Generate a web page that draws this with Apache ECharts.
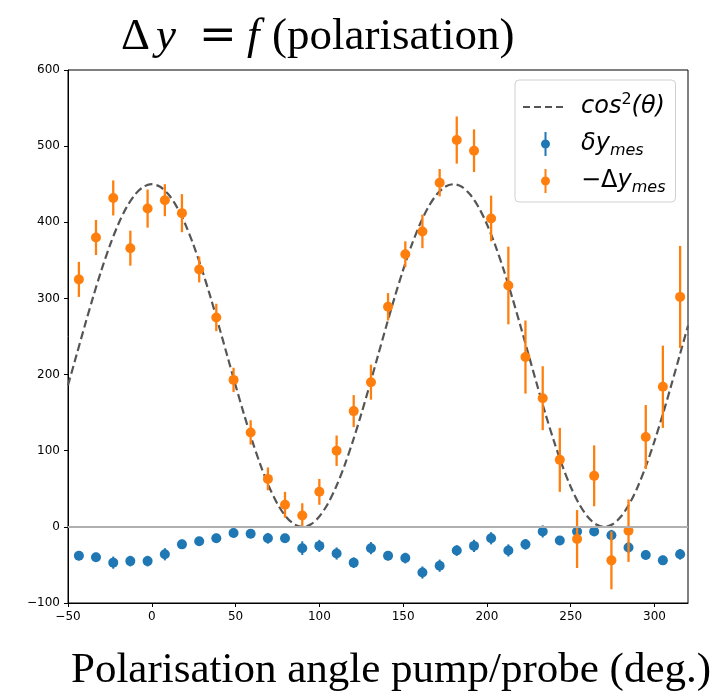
<!DOCTYPE html>
<html>
<head>
<meta charset="utf-8">
<script src="https://cdn.jsdelivr.net/npm/echarts@6/dist/echarts.min.js"></script>
<style>
  html, body { margin: 0; padding: 0; background: #fff; }
  #chart { width: 727px; height: 697px; }
</style>
</head>
<body>
<div id="chart"></div>
<script>
  // measurement angles (deg.)
  const angles = [-43.5, -33.3, -23.0, -12.8, -2.5, 7.8, 18.0, 28.3, 38.5, 48.8, 59.0, 69.3,
    79.5, 89.8, 100.0, 110.3, 120.5, 130.8, 141.0, 151.3, 161.5, 171.8, 182.0, 192.3,
    202.5, 212.8, 223.0, 233.3, 243.5, 253.8, 264.0, 274.3, 284.5, 294.8, 305.0, 315.3];

  // delta y measured (blue)
  const blueY = [-38, -40, -47, -45, -45, -36, -23, -19, -15, -8, -9, -15,
    -15, -28, -25, -35, -47, -28, -38, -41, -60, -51, -31, -25,
    -15, -31, -23, -6, -18, -6, -6, -11, -27, -37, -44, -36];
  const blueErr = [6, 6, 8, 7, 7, 8, 6, 5, 6, 6, 6, 7,
    6, 9, 8, 8, 7, 8, 6, 7, 8, 8, 7, 8,
    8, 8, 7, 8, 6, 6, 6, 7, 7, 6, 6, 7];

  // -Delta y measured (orange)
  const orangeY = [325, 380, 432, 366, 418, 429, 412, 338, 275, 193, 124, 63,
    29, 15, 46, 100, 152, 190, 289, 358, 388, 452, 508, 494,
    405, 317, 223, 169, 88, -16, 67, -44, -5, 118, 184, 302];
  const orangeErr = [23, 23, 23, 23, 25, 21, 25, 17, 18, 16, 16, 15,
    17, 16, 17, 20, 21, 23, 18, 17, 22, 18, 31, 28,
    30, 51, 48, 42, 42, 38, 40, 38, 41, 42, 54, 67];

  // cos^2 reference curve
  const curveX = [-50, -45, -40, -35, -30, -25, -20, -15, -10, -5, 0, 5, 10, 15, 20, 25, 30, 35, 40, 45,
    50, 55, 60, 65, 70, 75, 80, 85, 90, 95, 100, 105, 110, 115, 120, 125, 130, 135, 140, 145,
    150, 155, 160, 165, 170, 175, 180, 185, 190, 195, 200, 205, 210, 215, 220, 225, 230, 235, 240, 245,
    250, 255, 260, 265, 270, 275, 280, 285, 290, 295, 300, 305, 310, 315, 320];
  const curveY = [185.9, 225, 264.1, 302, 337.5, 369.6, 397.4, 419.9, 436.4, 446.6, 450, 446.6, 436.4, 419.9, 397.4, 369.6, 337.5, 302, 264.1, 225,
    185.9, 148, 112.5, 80.4, 52.6, 30.1, 13.6, 3.4, 0, 3.4, 13.6, 30.1, 52.6, 80.4, 112.5, 148, 185.9, 225, 264.1, 302,
    337.5, 369.6, 397.4, 419.9, 436.4, 446.6, 450, 446.6, 436.4, 419.9, 397.4, 369.6, 337.5, 302, 264.1, 225, 185.9, 148, 112.5, 80.4,
    52.6, 30.1, 13.6, 3.4, 0, 3.4, 13.6, 30.1, 52.6, 80.4, 112.5, 148, 185.9, 225, 264.1];

  const legendLabels = {
    cos2: '{i|cos}{sup|2}{i|(θ)}',
    dy: '{i|δy}{sub|mes}',
    Dy: '{n|−Δ}{i|y}{sub|mes}',
  };

  // legend icons, tiny corner specks keep every icon box at 45x30
  const box = 'M0,0 L0.01,0 L0,0.01 Z M45,30 L44.99,30 L45,29.99 Z ';
  const errIcon = 'path://' + box +
    'M21.5,3 L23.5,3 L23.5,27 L21.5,27 Z M27,15 A4.5,4.5 0 1,1 18,15 A4.5,4.5 0 1,1 27,15 Z';
  const dashIcon = 'path://' + box +
    'M0,14 L7,14 L7,16 L0,16 Z M11,14 L18,14 L18,16 L11,16 Z M22,14 L29,14 L29,16 L22,16 Z M33,14 L40,14 L40,16 L33,16 Z';

  function errorBar(color, r, w) {
    return function (params, api) {
      const x = api.value(0), y = api.value(1), e = api.value(2);
      const top = api.coord([x, y + e]);
      const bot = api.coord([x, y - e]);
      const c = api.coord([x, y]);
      return {
        type: 'group',
        children: [
          { type: 'line', shape: { x1: top[0], y1: top[1], x2: bot[0], y2: bot[1] }, style: { stroke: color, lineWidth: w } },
          { type: 'circle', shape: { cx: c[0], cy: c[1], r: r }, style: { fill: color } },
        ],
      };
    };
  }

  const minus = (v) => String(v).replace('-', '−');
  const axisText = { fontFamily: 'DejaVu Sans', fontSize: 12, color: '#000', formatter: minus };
  const serif = { fontFamily: 'Liberation Serif', fontSize: 45, fontWeight: 'normal', color: '#000', lineHeight: 52 };

  const chart = echarts.init(document.getElementById('chart'));
  chart.setOption({
    animation: false,
    title: {
      left: 116,
      top: 6,
      text: '{d|Δ}{y|y}{eq|=}{f|f}{n|(polarisation)}',
      textStyle: {
        fontWeight: 'normal',
        rich: {
          n: serif,
          d: Object.assign({}, serif, { width: 35 }),
          y: Object.assign({}, serif, { fontStyle: 'italic', width: 43 }),
          eq: Object.assign({}, serif, { fontFamily: 'DejaVu Serif', width: 48 }),
          f: Object.assign({}, serif, { fontStyle: 'italic', width: 25 }),
        },
      },
    },
    grid: { left: 68, right: 39, top: 70, bottom: 87, show: true, borderColor: '#000', borderWidth: 1 },
    legend: {
      orient: 'vertical',
      left: 515,
      top: 80,
      itemWidth: 45,
      itemHeight: 30,
      itemGap: 7,
      padding: [12, 10, 6, 8],
      borderColor: '#d0d0d0',
      borderWidth: 1,
      borderRadius: 4,
      backgroundColor: '#fff',
      data: [
        { name: 'cos2', icon: dashIcon },
        { name: 'dy', icon: errIcon },
        { name: 'Dy', icon: errIcon },
      ],
      formatter: (name) => legendLabels[name],
      textStyle: {
        padding: [0, 0, 0, 8],
        rich: {
          i: { fontFamily: 'DejaVu Sans', fontStyle: 'italic', fontSize: 24, color: '#000', lineHeight: 30 },
          n: { fontFamily: 'DejaVu Sans', fontSize: 24, color: '#000', lineHeight: 30 },
          sup: { fontFamily: 'DejaVu Sans', fontSize: 16, color: '#000', lineHeight: 16, verticalAlign: 'top' },
          sub: { fontFamily: 'DejaVu Sans', fontStyle: 'italic', fontSize: 16, color: '#000', lineHeight: 12, verticalAlign: 'bottom' },
        },
      },
    },
    xAxis: {
      type: 'value',
      min: -50,
      max: 320,
      interval: 50,
      name: 'Polarisation angle pump/probe (deg.)',
      nameLocation: 'middle',
      nameGap: 46,
      nameTextStyle: { fontFamily: 'Liberation Serif', fontSize: 43, color: '#000', padding: [0, 0, 0, 26] },
      axisLine: { onZero: false, lineStyle: { color: '#000' } },
      axisTick: { length: 4, lineStyle: { color: '#000' } },
      axisLabel: Object.assign({ margin: 8, showMaxLabel: false }, axisText),
      splitLine: { show: false },
    },
    yAxis: {
      type: 'value',
      min: -100,
      max: 600,
      interval: 100,
      axisLine: { show: true, onZero: false, lineStyle: { color: '#000' } },
      axisTick: { show: true, length: 4, lineStyle: { color: '#000' } },
      axisLabel: Object.assign({ margin: 8 }, axisText),
      splitLine: { show: false },
    },
    series: [
      {
        name: 'cos2',
        type: 'line',
        data: curveX.map((x, i) => [x, curveY[i]]),
        smooth: 0.3,
        symbol: 'none',
        lineStyle: { color: '#555', width: 2.2, type: [8, 4] },
        itemStyle: { color: '#555' },
        markLine: {
          silent: true,
          symbol: 'none',
          label: { show: false },
          lineStyle: { color: '#b0b0b0', width: 2, type: 'solid' },
          data: [{ yAxis: 0 }],
        },
        z: 1,
      },
      {
        name: 'dy',
        type: 'custom',
        renderItem: errorBar('#1f77b4', 5, 2),
        itemStyle: { color: '#1f77b4' },
        data: angles.map((x, i) => [x, blueY[i], blueErr[i]]),
        z: 3,
      },
      {
        name: 'Dy',
        type: 'custom',
        renderItem: errorBar('#ff7f0e', 5, 2.3),
        itemStyle: { color: '#ff7f0e' },
        data: angles.map((x, i) => [x, orangeY[i], orangeErr[i]]),
        z: 4,
      },
    ],
  });
</script>
</body>
</html>
